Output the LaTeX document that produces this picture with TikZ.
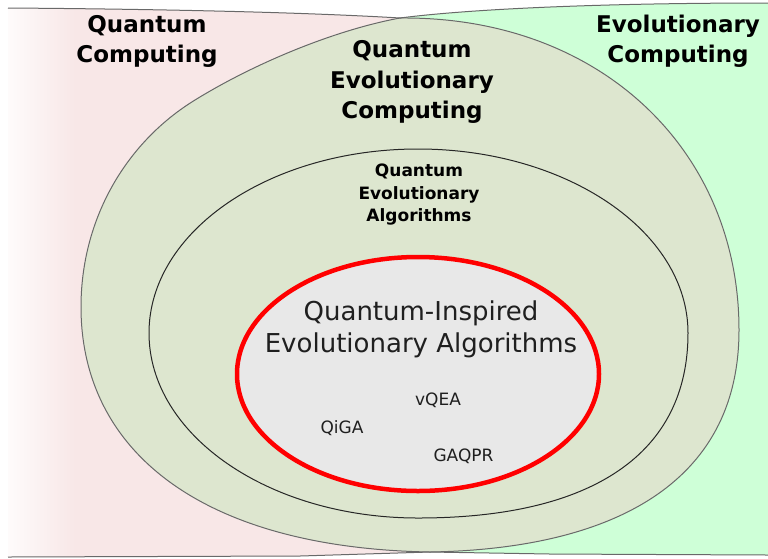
\documentclass[tikz,border=0pt]{standalone}
\usepackage{fontspec}
\setmainfont{DejaVu Sans}
\definecolor{qcpink}{RGB}{248,231,231}
\definecolor{ecgreen}{RGB}{206,255,215}
\definecolor{qecolive}{RGB}{221,230,207}
\definecolor{qieagray}{RGB}{232,232,232}
\definecolor{edgegray}{RGB}{105,105,105}
\begin{document}
\begin{tikzpicture}[x=1pt,y=-1pt,
  edge/.style={draw=edgegray,line width=1pt},
  bigbold/.style={font=\fontsize{23}{28}\selectfont\bfseries,anchor=base,inner sep=0pt},
  midbold/.style={font=\fontsize{17}{20}\selectfont\bfseries,anchor=base,inner sep=0pt},
  biglabel/.style={font=\fontsize{26}{31}\selectfont,anchor=base,inner sep=0pt,text=black!88},
  algo/.style={font=\fontsize{17}{20}\selectfont,anchor=base,inner sep=0pt,text=black!88}]
\useasboundingbox (0,0) rectangle (768,558);
\fill[white] (0,0) rectangle (768,558);

% key points of the two overlapping regions
\coordinate (top) at (400,18);
\coordinate (bot) at (430,552);

% Quantum Computing region (left), fading out at the left border
\begin{scope}
\clip (8,8) .. controls (150,9) and (300,12) .. (top)
  .. controls (600,16) and (739,150) .. (739,330)
  .. controls (739,485) and (610,549) .. (bot)
  -- (300,556) -- (8,557) -- cycle;
\fill[qcpink] (0,0) rectangle (768,558);
\shade[left color=white,right color=qcpink] (-5,0) rectangle (75,558);
\end{scope}

% Evolutionary Computing region (right)
\fill[ecgreen] (bot) .. controls (200,548) and (81,450) .. (81,307)
  .. controls (81,220) and (125,143) .. (195,100)
  .. controls (255,63) and (335,30) .. (top)
  .. controls (470,9) and (600,3) .. (770,3)
  -- (770,555) -- (550,554) -- cycle;

% Quantum Evolutionary Computing: the overlap of both regions
\fill[qecolive] (top)
  .. controls (600,16) and (739,150) .. (739,330)
  .. controls (739,485) and (610,549) .. (bot)
  .. controls (200,548) and (81,450) .. (81,307)
  .. controls (81,220) and (125,143) .. (195,100)
  .. controls (255,63) and (335,30) .. (top) -- cycle;

% region outlines
\draw[edge] (8,8) .. controls (150,9) and (300,12) .. (top);
\draw[edge] (top) .. controls (470,9) and (600,3) .. (768,3);
\draw[edge] (top)
  .. controls (600,16) and (739,150) .. (739,330)
  .. controls (739,485) and (610,549) .. (bot);
\draw[edge] (bot) .. controls (200,548) and (81,450) .. (81,307)
  .. controls (81,220) and (125,143) .. (195,100)
  .. controls (255,63) and (335,30) .. (top);
\draw[edge] (8,557) -- (300,556) -- (bot) -- (550,554) -- (768,555);

% Quantum Evolutionary Algorithms
\draw[fill=qecolive,draw=black!85,line width=1pt] (149,333)
  .. controls (149,231.4) and (269.4,149) .. (418,149)
  .. controls (566.6,149) and (688,231.4) .. (688,333)
  .. controls (688,453) and (593.5,518) .. (418,518)
  .. controls (269.1,518) and (149,435.2) .. (149,333) -- cycle;

% Quantum-Inspired Evolutionary Algorithms
\draw[fill=qieagray,draw=red,line width=4.5pt] (418,374) ellipse [x radius=181pt,y radius=117pt];

% labels
\node[bigbold] (qc1) at (147,32) {Quantum};
\node[bigbold] (qc2) at (147,62) {Computing};
\node[bigbold] (ec1) at (678,32) {Evolutionary};
\node[bigbold] (ec2) at (678,62) {Computing};
\node[bigbold] (qec1) at (412,57) {Quantum};
\node[bigbold] (qec2) at (412,88) {Evolutionary};
\node[bigbold] (qec3) at (412,118) {Computing};
\node[midbold] (qea1) at (419,176) {Quantum};
\node[midbold] (qea2) at (419,199) {Evolutionary};
\node[midbold] (qea3) at (419,221) {Algorithms};
\node[biglabel] (qiea1) at (421,320) {Quantum-Inspired};
\node[biglabel] (qiea2) at (421,352) {Evolutionary Algorithms};
\node[algo] (vqea) at (438,405) {vQEA};
\node[algo] (qiga) at (342,433) {QiGA};
\node[algo] (gaqpr) at (463.5,461) {GAQPR};
\end{tikzpicture}
\end{document}
